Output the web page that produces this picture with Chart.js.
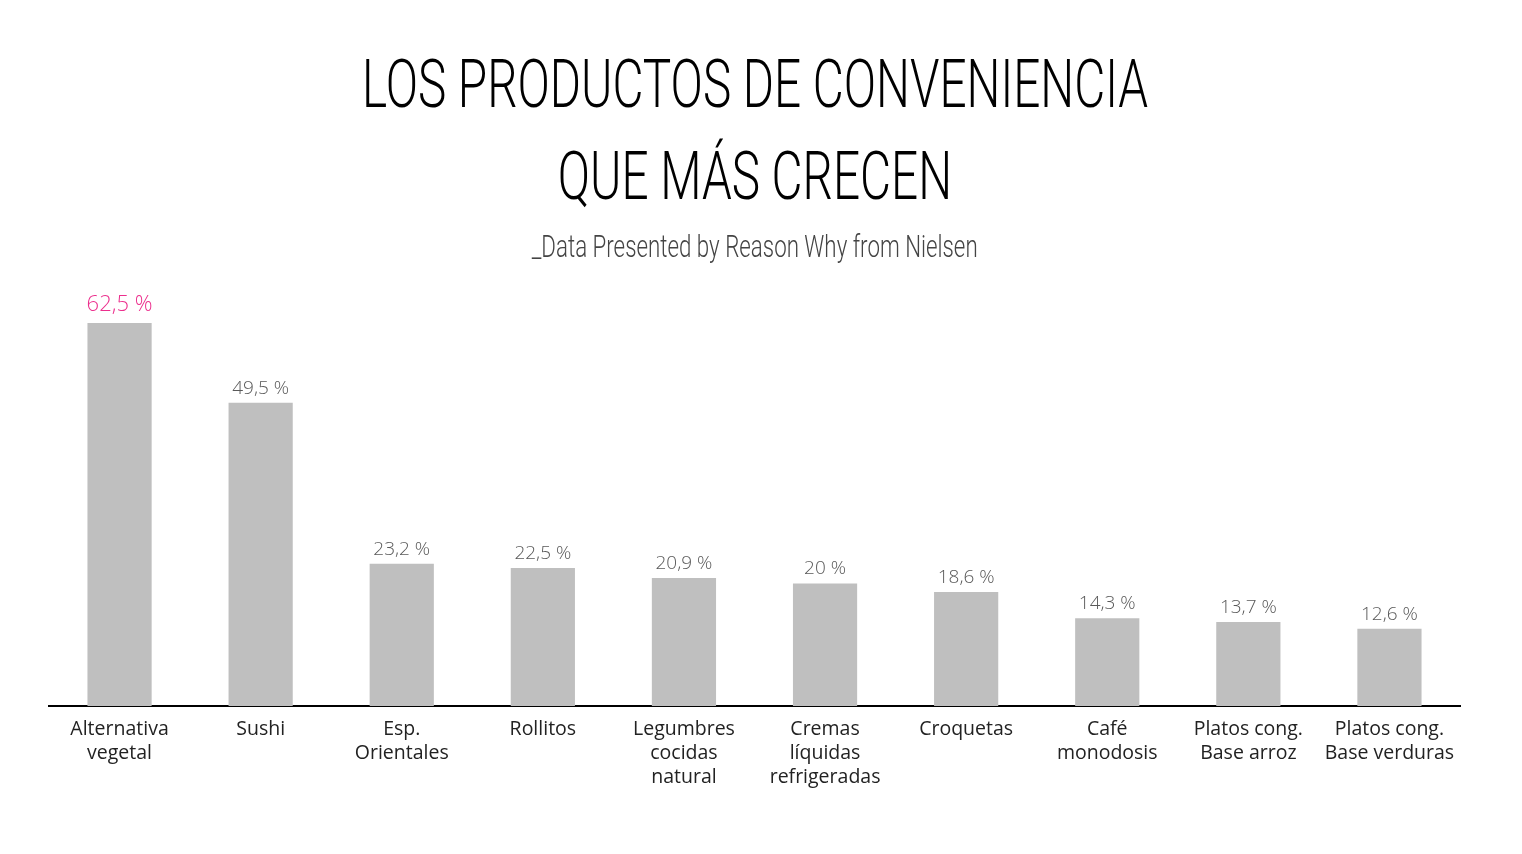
<!DOCTYPE html>
<html>
<head>
<meta charset="utf-8">
<script src="https://cdn.jsdelivr.net/npm/chart.js@4"></script>
<style>
  html, body { margin: 0; padding: 0; background: #fff; }
  #wrap { position: relative; width: 1522px; height: 854px; overflow: hidden; }
  #chart { position: absolute; left: 0; top: 0; }
  .ttl { position: absolute; left: -6px; width: 1522px; text-align: center; white-space: nowrap; }
  .ttl span { display: inline-block; transform: scaleX(0.712); transform-origin: center; }
  .big { font-family: Roboto, sans-serif; font-weight: 300; font-size: 67px; color: #000; line-height: 1; }
  .sub { font-family: Roboto, sans-serif; font-weight: 300; font-size: 31px; color: #444; line-height: 1; }
  .sub span { transform: scaleX(0.72); }
</style>
</head>
<body>
<div id="wrap">
  <canvas id="chart" width="1522" height="854"></canvas>
  <div class="ttl big" style="top:51px"><span>LOS PRODUCTOS DE CONVENIENCIA</span></div>
  <div class="ttl big" style="top:143px"><span>QUE MÁS CRECEN</span></div>
  <div class="ttl sub" style="top:231px"><span>_Data Presented by Reason Why from Nielsen</span></div>
</div>
<script>
// Categories and values
var categories = [
  ['Alternativa', 'vegetal'],
  ['Sushi'],
  ['Esp.', 'Orientales'],
  ['Rollitos'],
  ['Legumbres', 'cocidas', 'natural'],
  ['Cremas', 'líquidas', 'refrigeradas'],
  ['Croquetas'],
  ['Café', 'monodosis'],
  ['Platos cong.', 'Base arroz'],
  ['Platos cong.', 'Base verduras']
];
var growth = [62.5, 49.5, 23.2, 22.5, 20.9, 20, 18.6, 14.3, 13.7, 12.6];

var BAR   = '#bfbfbf';
var PINK  = '#ec2f8d';
var GREY  = '#595959';
var FONT  = "'Open Sans', Lato, sans-serif";

// value labels above the bars
var valueLabels = {
  id: 'valueLabels',
  afterDatasetsDraw: function(chart) {
    var ctx = chart.ctx;
    var meta = chart.getDatasetMeta(0);
    ctx.save();
    ctx.textAlign = 'center';
    ctx.textBaseline = 'bottom';
    meta.data.forEach(function(bar, i) {
      var txt = String(growth[i]).replace('.', ',') + ' %';
      if (i === 0) {
        ctx.fillStyle = PINK;
        ctx.font = '300 22px ' + FONT;
        ctx.fillText(txt, bar.x, bar.y - 7);
      } else {
        ctx.fillStyle = GREY;
        ctx.font = '300 19px ' + FONT;
        ctx.fillText(txt, bar.x, bar.y - 5);
      }
    });
    ctx.restore();
  }
};

new Chart(document.getElementById('chart').getContext('2d'), {
  type: 'bar',
  data: {
    labels: categories,
    datasets: [{
      data: growth,
      backgroundColor: BAR,
      borderWidth: 0,
      barPercentage: 0.455,
      categoryPercentage: 1
    }]
  },
  options: {
    responsive: false,
    animation: false,
    layout: { padding: { left: 49, right: 62, top: 277, bottom: 0 } },
    plugins: { legend: { display: false }, tooltip: { enabled: false } },
    scales: {
      x: {
        grid: { display: false },
        border: { display: true, color: '#000', width: 2 },
        ticks: { color: '#222', font: { family: FONT, size: 19.5, lineHeight: 1.22 }, padding: 4, maxRotation: 0, autoSkip: false },
        afterFit: function(scale) { scale.height = 148; }
      },
      y: {
        display: false,
        min: 0,
        max: 70
      }
    }
  },
  plugins: [valueLabels]
});
</script>
</body>
</html>
